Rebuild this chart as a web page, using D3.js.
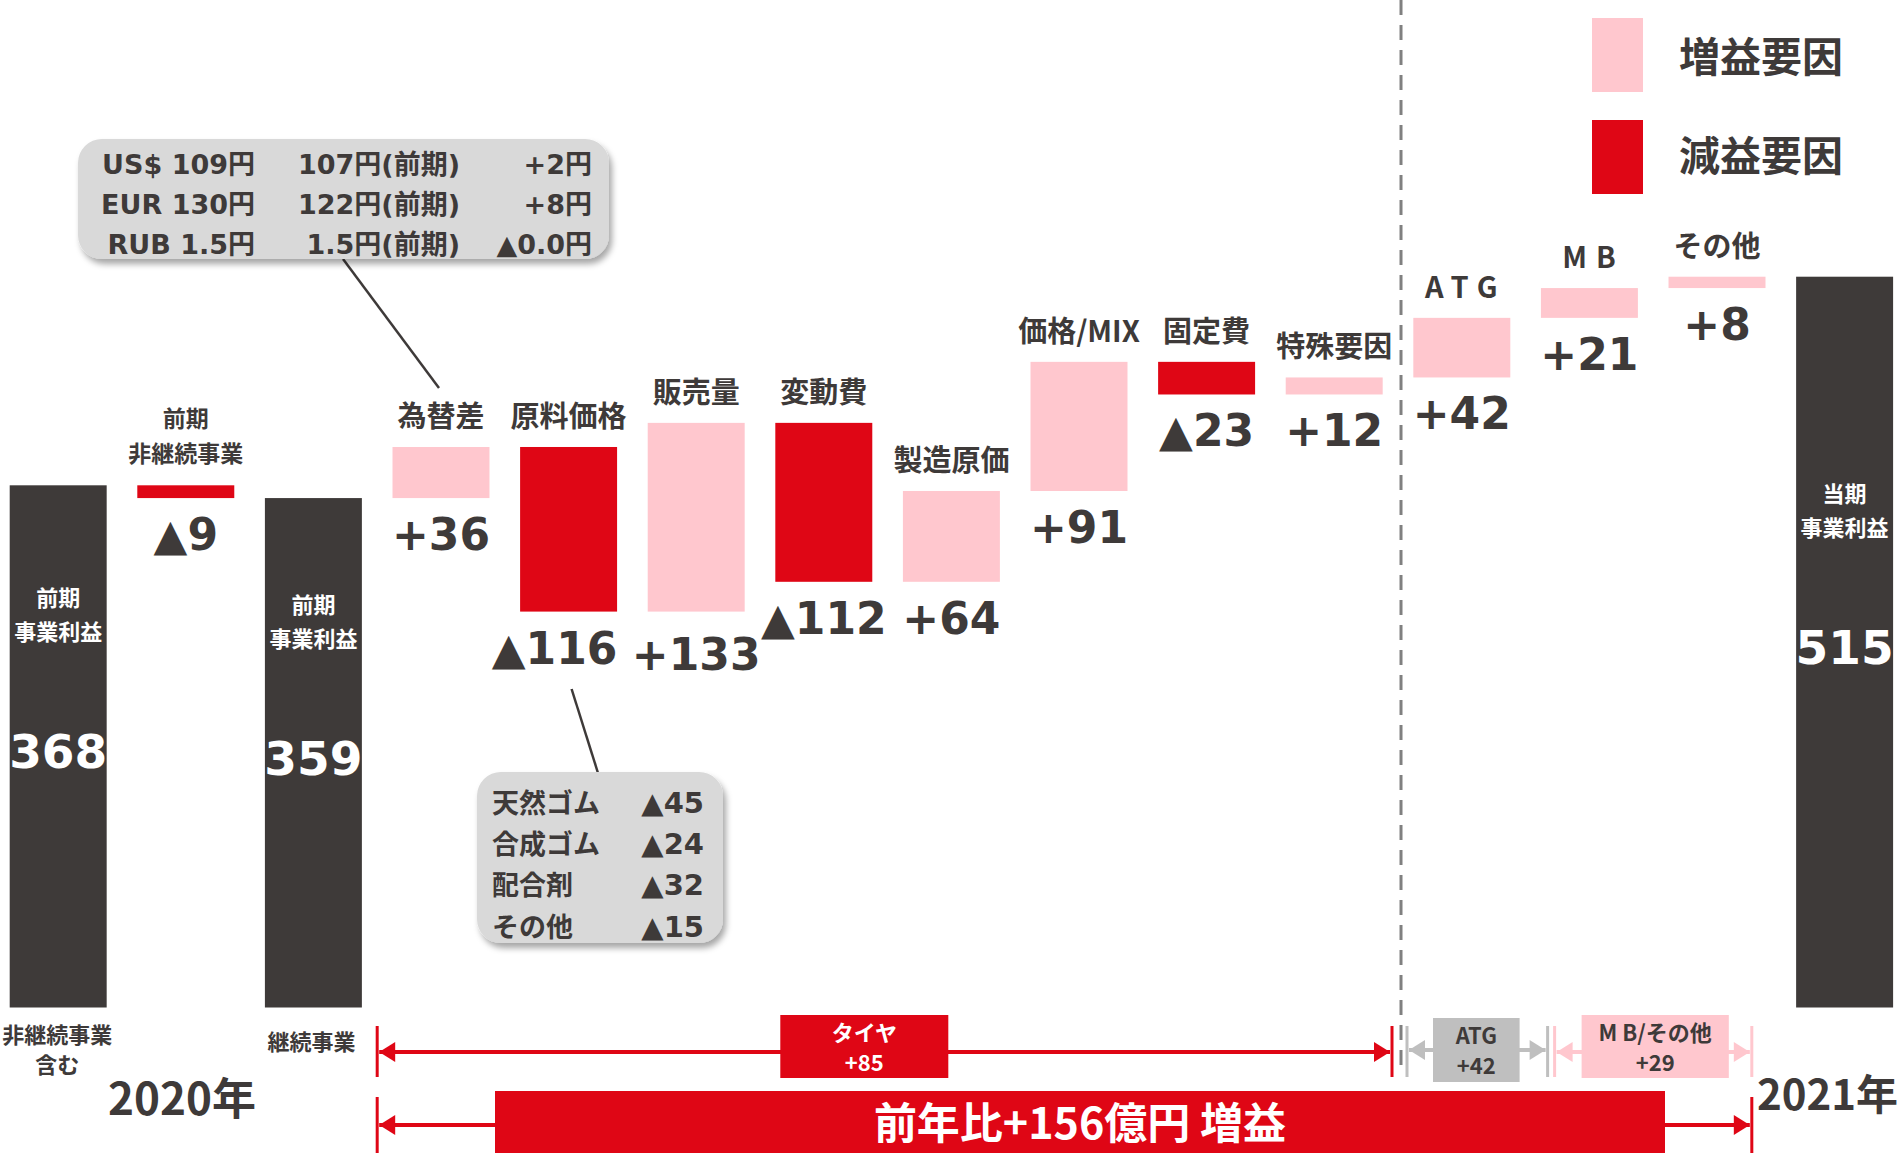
<!DOCTYPE html>
<html>
<head>
<meta charset="utf-8">
<title></title>
<style>
	body { margin: 0; background: #fff; }
	text { font-family: "Noto Sans CJK JP", sans-serif; font-weight: 700; }
	.num { font-family: "DejaVu Sans", "Noto Sans CJK JP", sans-serif; }
</style>
</head>
<body>
	<svg id="chart" width="1901" height="1153"></svg>
<script src="https://cdn.jsdelivr.net/npm/d3@7"></script>
<script>
	// values (億円)
	const prevTotal = 368
	const prevContinuing = 359
	const currTotal = 515
	const stepNames = ["前期非継続事業", "為替差", "原料価格", "販売量", "変動費", "製造原価", "価格/MIX", "固定費", "特殊要因", "ATG", "MB", "その他"]
	const stepLabels = [["前期", "非継続事業"], ["為替差"], ["原料価格"], ["販売量"], ["変動費"], ["製造原価"], ["価格/MIX"], ["固定費"], ["特殊要因"], ["ATG"], ["MB"], ["その他"]]
	const stepValues = [-9, 36, -116, 133, -112, 64, 91, -23, 12, 42, 21, 8]
	const totalInner = [["前期", "事業利益"], ["前期", "事業利益"], ["当期", "事業利益"]]
	const totalBelow = [["非継続事業", "含む"], ["継続事業"], []]

	const fxRows = [
		["US$ 109円", "107円(前期)", "+2円"],
		["EUR 130円", "122円(前期)", "+8円"],
		["RUB 1.5円", "1.5円(前期)", "▲0.0円"]
	]
	const rawRows = [["天然ゴム", "▲45"], ["合成ゴム", "▲24"], ["配合剤", "▲32"], ["その他", "▲15"]]
	const segTyre = ["タイヤ", "+85"]
	const segATG = ["ATG", "+42"]
	const segMB = ["M B/その他", "+29"]
	const yoyText = "前年比+156億円 増益"
	const years = ["2020年", "2021年"]
	const legendItems = [["増益要因", "up"], ["減益要因", "down"]]

	const colors = { total: "#3e3a39", up: "#ffc7ce", down: "#df0615" }
	const dark = "#3e3a39"
	// small hand nudges so neighbouring value labels don't collide
	const labelNudge = { "原料価格": [-14, 0], "販売量": [0, 6] }

	// build waterfall
	let bars = []
	let run = prevTotal
	bars.push({ name: "前期事業利益", kind: "total", y0: 0, y1: prevTotal, t: 0 })
	stepNames.forEach((n, i) => {
		let v = stepValues[i]
		bars.push({ name: n, kind: v >= 0 ? "up" : "down", y0: run, y1: run + v, value: v, label: stepLabels[i] })
		run += v
		if (i === 0) bars.push({ name: "前期事業利益(継続)", kind: "total", y0: 0, y1: prevContinuing, t: 1 })
	})
	bars.push({ name: "当期事業利益", kind: "total", y0: 0, y1: currTotal, t: 2 })

	let svg = d3.select("#chart")
	let defs = svg.append("defs")
	let f = defs.append("filter").attr("id", "shadow").attr("x", "-10%").attr("y", "-10%").attr("width", "130%").attr("height", "140%")
	f.append("feDropShadow").attr("dx", 3).attr("dy", 5).attr("stdDeviation", 3).attr("flood-color", "#000").attr("flood-opacity", 0.35)

	let x = d3.scaleBand()
		.domain(bars.map(d => d.name))
		.range([9.7, 1893.1])
		.paddingInner(0.24)
		.paddingOuter(0)
	let y = d3.scaleLinear().domain([0, 710]).range([1007.5, 0])
	let bw = x.bandwidth()
	let gap = (x.step() - bw) / 2
	let gapX = i => x(bars[i].name) - gap

	// dashed divider
	svg.append("line")
		.attr("x1", gapX(11) + 3).attr("x2", gapX(11) + 3)
		.attr("y1", 0).attr("y2", 1067)
		.attr("stroke", "#808080").attr("stroke-width", 3).attr("stroke-dasharray", "15 10")

	// bars
	svg.selectAll("rect.bar")
		.data(bars)
		.enter()
		.append("rect")
			.attr("class", "bar")
			.attr("x", d => x(d.name))
			.attr("width", bw)
			.attr("y", d => y(Math.max(d.y0, d.y1)))
			.attr("height", d => Math.abs(y(d.y0) - y(d.y1)))
			.attr("fill", d => colors[d.kind])

	let steps = bars.filter(d => d.kind !== "total")
	let fmt = v => (v >= 0 ? "+" : "▲") + Math.abs(v)
	let nudge = d => labelNudge[d.name] || [0, 0]

	// value labels under step bars
	svg.selectAll("text.val")
		.data(steps)
		.enter()
		.append("text")
			.attr("class", "val num")
			.attr("x", d => x(d.name) + bw / 2 + nudge(d)[0])
			.attr("y", d => y(Math.min(d.y0, d.y1)) + 52 + nudge(d)[1])
			.attr("text-anchor", "middle")
			.attr("font-size", 44)
			.attr("fill", dark)
			.text(d => fmt(d.value))

	// category labels above step bars
	steps.forEach(d => {
		let top = y(Math.max(d.y0, d.y1))
		let small = d.label.length > 1
		let t = svg.append("text")
			.attr("x", x(d.name) + bw / 2)
			.attr("text-anchor", "middle")
			.attr("font-size", small ? 23 : 29)
			.attr("fill", dark)
		if (d.name === "ATG" || d.name === "MB") t.attr("letter-spacing", 9).attr("dx", 4)
		d.label.forEach((l, i) => {
			t.append("tspan")
				.attr("x", x(d.name) + bw / 2)
				.attr("y", top - (small ? 23 + (d.label.length - 1 - i) * 35 : 20))
				.text(l)
		})
	})

	// totals: inner texts
	let totals = bars.filter(d => d.kind === "total")
	totals.forEach(d => {
		let cx = x(d.name) + bw / 2
		let cy = (y(0) + y(d.y1)) / 2
		let lab = totalInner[d.t]
		svg.append("text").attr("x", cx).attr("y", cy - 140).attr("text-anchor", "middle")
			.attr("font-size", 22).attr("fill", "#fff").text(lab[0])
		svg.append("text").attr("x", cx).attr("y", cy - 106).attr("text-anchor", "middle")
			.attr("font-size", 22).attr("fill", "#fff").text(lab[1])
		svg.append("text").attr("class", "num").attr("x", cx).attr("y", cy + 22).attr("text-anchor", "middle")
			.attr("font-size", 47).attr("fill", "#fff").text(d.y1)
		totalBelow[d.t].forEach((l, i) => {
			svg.append("text").attr("x", cx - (d.t === 0 ? 1 : 2)).attr("y", (d.t === 0 ? 1043 : 1050) + i * 30)
				.attr("text-anchor", "middle").attr("font-size", 22).attr("fill", dark).text(l)
		})
	})

	// years
	svg.append("text").attr("x", 182).attr("y", 1115).attr("text-anchor", "middle")
		.attr("font-size", 44).attr("fill", dark).text(years[0])
	svg.append("text").attr("x", 1757).attr("y", 1110)
		.attr("font-size", 42).attr("fill", dark).text(years[1])

	// legend
	legendItems.forEach((l, i) => {
		svg.append("rect").attr("x", 1592).attr("y", 18 + i * 102).attr("width", 51).attr("height", 74).attr("fill", colors[l[1]])
		svg.append("text").attr("x", 1679).attr("y", 72 + i * 99).attr("font-size", 41).attr("fill", dark).text(l[0])
	})

	// FX callout
	let fxBar = bars[3]
	let fxCx = x(fxBar.name) + bw / 2
	svg.append("line").attr("x1", 343).attr("y1", 259).attr("x2", fxCx - 2).attr("y2", 388)
		.attr("stroke", dark).attr("stroke-width", 2.5)
	svg.append("rect").attr("x", 78).attr("y", 139).attr("width", 531).attr("height", 120).attr("rx", 24)
		.attr("fill", "#d9d9d9").attr("filter", "url(#shadow)")
	let fxCols = [255, 460, 592]
	fxRows.forEach((r, i) => {
		r.forEach((c, j) => {
			svg.append("text").attr("class", "num").attr("x", fxCols[j]).attr("y", 174 + i * 40).attr("text-anchor", "end")
				.attr("font-size", 27).attr("fill", dark).text(c)
		})
	})

	// raw material callout
	let rawBar = bars[4]
	let rawCx = x(rawBar.name) + bw / 2
	svg.append("line").attr("x1", rawCx + 3).attr("y1", 689).attr("x2", 598).attr("y2", 773)
		.attr("stroke", dark).attr("stroke-width", 2.5)
	svg.append("rect").attr("x", 477).attr("y", 772).attr("width", 246).attr("height", 171).attr("rx", 24)
		.attr("fill", "#d9d9d9").attr("filter", "url(#shadow)")
	rawRows.forEach((r, i) => {
		svg.append("text").attr("x", 492).attr("y", 813 + i * 41.2).attr("font-size", 27).attr("fill", dark).text(r[0])
		svg.append("text").attr("class", "num").attr("x", 704).attr("y", 813 + i * 41.2).attr("text-anchor", "end")
			.attr("font-size", 29).attr("fill", dark).text(r[1])
	})

	// brackets at the bottom
	function arrowHead(g, xTip, yy, dir, color) {
		g.append("path")
			.attr("d", `M${xTip},${yy} L${xTip - dir * 16},${yy - 10} L${xTip - dir * 16},${yy + 10} Z`)
			.attr("fill", color)
	}
	function bracket(x0, x1, yT, yB, yA, bx0, bx1, by0, by1, lineColor, boxColor, texts, textColor, fs) {
		let g = svg.append("g")
		g.append("line").attr("x1", x0).attr("x2", x0).attr("y1", yT).attr("y2", yB).attr("stroke", lineColor).attr("stroke-width", 3)
		g.append("line").attr("x1", x1).attr("x2", x1).attr("y1", yT).attr("y2", yB).attr("stroke", lineColor).attr("stroke-width", 3)
		g.append("line").attr("x1", x0 + 2).attr("x2", x1 - 2).attr("y1", yA).attr("y2", yA).attr("stroke", lineColor).attr("stroke-width", 4)
		arrowHead(g, x0 + 2, yA, -1, lineColor)
		arrowHead(g, x1 - 2, yA, 1, lineColor)
		g.append("rect").attr("x", bx0).attr("y", by0).attr("width", bx1 - bx0).attr("height", by1 - by0).attr("fill", boxColor)
		let cx = (bx0 + bx1) / 2
		if (texts.length === 2) {
			g.append("text").attr("x", cx).attr("y", by0 + 26).attr("text-anchor", "middle").attr("font-size", fs).attr("fill", textColor).text(texts[0])
			g.append("text").attr("x", cx).attr("y", by0 + 56).attr("text-anchor", "middle").attr("font-size", fs).attr("fill", textColor).text(texts[1])
		} else {
			g.append("text").attr("x", cx).attr("y", by0 + 48).attr("text-anchor", "middle").attr("font-size", fs).attr("fill", textColor).text(texts[0])
		}
	}
	let tyreL = gapX(3), tyreR = gapX(11) - 6
	let tyreC = tyreL + 0.48 * (tyreR - tyreL)
	bracket(tyreL, tyreR, 1026, 1077, 1052, tyreC - 84, tyreC + 84, 1015, 1078, colors.down, colors.down, segTyre, "#fff", 22)
	let atgL = gapX(11) + 9, atgR = gapX(12) + 22
	bracket(atgL, atgR, 1026, 1077, 1050, atgL + 26, atgR - 28, 1018, 1082, "#bfbfbf", "#bfbfbf", segATG, dark, 22)
	let mbL = gapX(12) + 29, mbR = gapX(14) - 29
	bracket(mbL, mbR, 1026, 1077, 1052, mbL + 27, mbR - 23, 1015, 1078, colors.up, colors.up, segMB, dark, 22)
	bracket(tyreL, mbR, 1097, 1153, 1125, 495, 1665, 1091, 1160, colors.down, colors.down, [yoyText], "#fff", 43)
</script>
</body>
</html>
